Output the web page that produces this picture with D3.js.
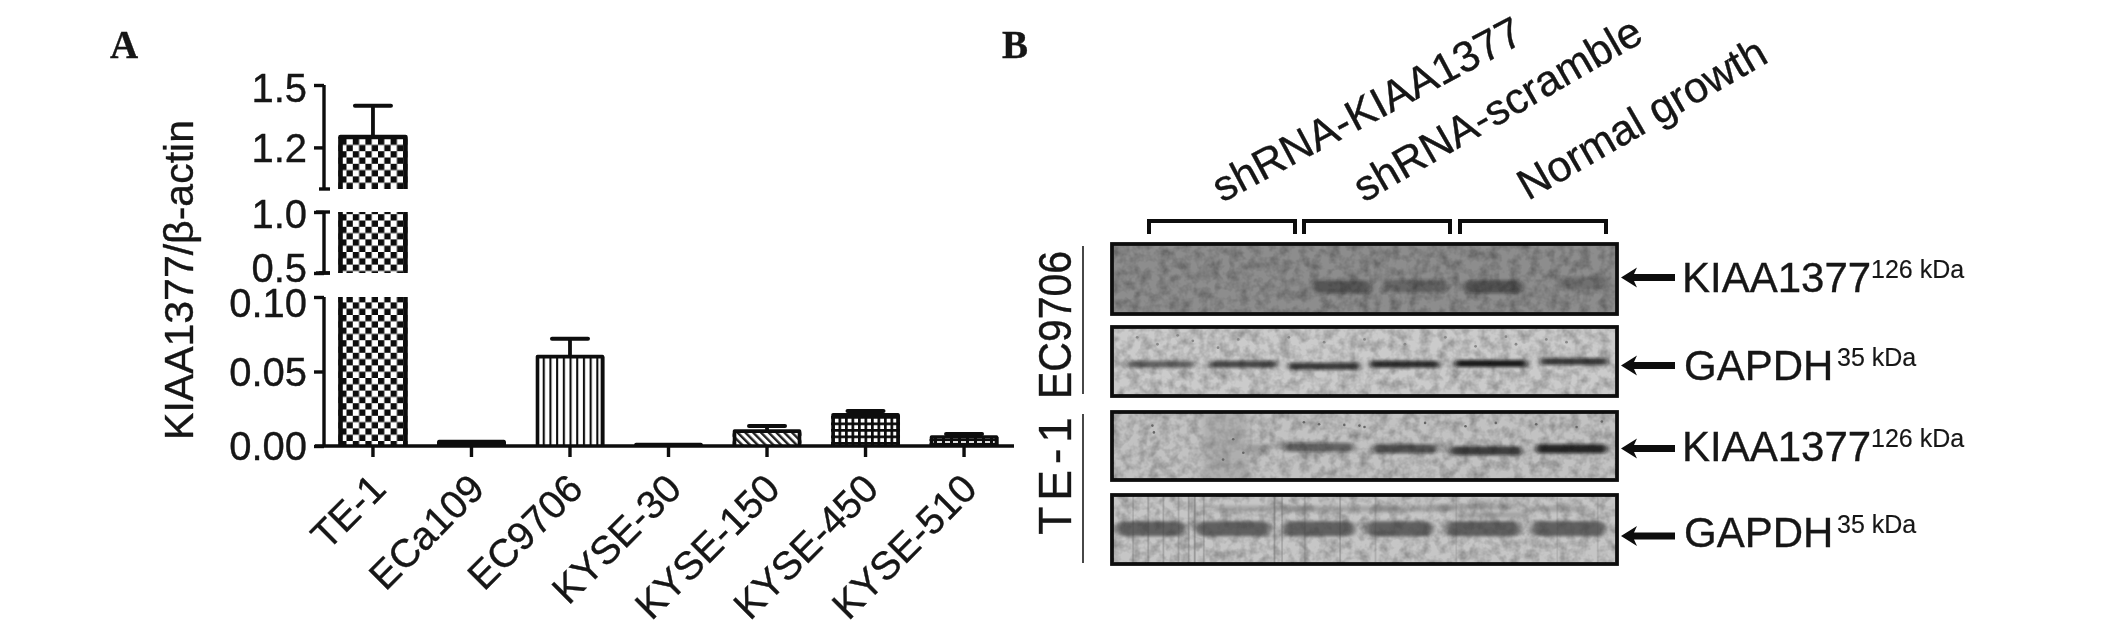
<!DOCTYPE html>
<html><head><meta charset="utf-8">
<script src="https://cdn.jsdelivr.net/npm/d3@7"></script>
<style>
html,body{margin:0;padding:0;background:#fff}
svg{display:block}
text{font-family:"Liberation Sans",Arial,sans-serif;fill:#141414;stroke:#141414;stroke-width:0.35px}
</style></head><body>
<svg id="c" width="2126" height="628"></svg>
<script>
// ---- Panel A data ----
const categories = ["TE-1","ECa109","EC9706","KYSE-30","KYSE-150","KYSE-450","KYSE-510"];
const barValues  = [1.25,0.003,0.06,0.001,0.01,0.021,0.006];
const errorTops  = [1.40,0.003,0.072,0.001,0.0134,0.0235,0.008];
const barFills   = ["checker","solid","vstripe","solid","diag","grid","dash"];
const yLabel = "KIAA1377/β-actin";
const segmentDomains = [[0,0.1],[0.5,1.0],[1.0,1.5]];
const segmentTicks   = [[0,0.05,0.10],[0.5,1.0],[1.2,1.5]];
const segmentTickLabels = [["0.00","0.05","0.10"],["0.5","1.0"],["1.2","1.5"]];

// ---- Panel B data (blot coordinates in percent of each blot) ----
const blotNames  = ["EC9706 KIAA1377","EC9706 GAPDH","TE-1 KIAA1377","TE-1 GAPDH"];
const blotGreys  = ["#8d8d8d","#cbcbcb","#c2c2c2","#c6c6c6"];
const blotBandCentres = [[45.6,60.4,75.6,93.4],[9.6,26,42,58,75,91.5],[29,41,58,74,91],[7.6,24,41,57,73.5,90.4]];
const blotBandWidths  = [[11.5,12.3,11.7,10.3],[13.5,13.5,14.2,13.8,14.2,13.5],[4.5,14,13,14.4,14.2],[13.6,14.8,14.4,13.3,14.8,14.8]];
const blotBandRows    = [[61,60,61,56],[54,54,57,54,53,50],[54,52,54,57,54],[49,49,49,49,49,49]];
const blotBandDark    = [[0.42,0.3,0.46,0.22],[0.55,0.68,0.75,0.82,0.92,0.74],[0.2,0.52,0.62,0.72,0.85],[0.72,0.72,0.72,0.72,0.74,0.72]];
const blotBandThick   = [13,7,9,15];
const teGapdhStreaks  = [[4,10],[7,12],[10,14],[13,12],[15,16],[16.2,18],[18,12],[32,18],[33.5,12],[38,10],[45,14],[52,10],[68,8],[88,8],[96,8]];
const teGapdhFaint    = [[30,20,20],[46,22,20],[60,16,20],[72,16,17],[75,14,29],[88,12,20]];
const teKiaaSpecks    = [[8,20],[8.3,30],[38,15],[41,18],[46,19],[49,20],[50,22],[62,16],[70,21],[76,16],[84,18],[92,22],[97,14],[24,40],[22,70],[26,60]];
const ecGapdhSpecks   = [[5,15],[9,25],[13,12],[16,20],[21,30],[25,18],[35,15],[42,22],[50,18],[58,25],[66,15],[72,28],[78,14],[80,25],[86,18],[90,22]];
const groupLabels = ["shRNA-KIAA1377","shRNA-scramble","Normal growth"];
const blotLabels  = ["KIAA1377","GAPDH","KIAA1377","GAPDH"];
const blotKDa     = ["126 kDa","35 kDa","126 kDa","35 kDa"];
const sideLabels  = ["EC9706","TE-1"];

const svg = d3.select("#c");
const defs = svg.append("defs");
const soft = defs.append("filter").attr("id","soft").attr("x",0).attr("y",0).attr("width",1).attr("height",1);
soft.append("feGaussianBlur").attr("stdDeviation",0.65);
const bandBlur = defs.append("filter").attr("id","bandBlur").attr("x","-20%").attr("y","-80%").attr("width","140%").attr("height","260%");
bandBlur.append("feGaussianBlur").attr("stdDeviation","3 1.5");
const g1 = defs.append("filter").attr("id","grain").attr("x",0).attr("y",0).attr("width",1).attr("height",1);
g1.append("feTurbulence").attr("type","fractalNoise").attr("baseFrequency","0.1").attr("numOctaves",3).attr("seed",4);
g1.append("feColorMatrix").attr("values","0 0 0 0 0  0 0 0 0 0  0 0 0 0 0  0 0 0 0.55 -0.2");
g1.append("feGaussianBlur").attr("stdDeviation",0.7);
g1.append("feComposite").attr("in2","SourceAlpha").attr("operator","in");

function pattern(id,w,h,draw,tf){
  const p = defs.append("pattern").attr("id",id).attr("patternUnits","userSpaceOnUse").attr("width",w).attr("height",h);
  if(tf) p.attr("patternTransform",tf);
  p.append("rect").attr("width",w).attr("height",h).attr("fill","#fff");
  draw(p);
}
const bk = "#0c0c0c";
pattern("checker",12.6,12.6,p=>{
  p.append("rect").attr("width",6.3).attr("height",6.3).attr("fill",bk);
  p.append("rect").attr("x",6.3).attr("y",6.3).attr("width",6.3).attr("height",6.3).attr("fill",bk);
});
pattern("vstripe",6.7,6.7,p=>p.append("rect").attr("width",2.1).attr("height",6.7).attr("fill",bk));
pattern("diag",5.5,5.5,p=>p.append("rect").attr("width",2.4).attr("height",5.5).attr("fill","#222"),"rotate(-45)");
pattern("grid",6.5,6.5,p=>{
  p.append("rect").attr("width",2.7).attr("height",6.5).attr("fill",bk);
  p.append("rect").attr("width",6.5).attr("height",2.7).attr("fill",bk);
});
pattern("dash",8,4,p=>{
  p.append("rect").attr("width",8).attr("height",4).attr("fill",bk);
  p.append("rect").attr("x",1).attr("y",1).attr("width",5).attr("height",2).attr("fill","#ddd");
});
pattern("solid",4,4,p=>p.append("rect").attr("width",4).attr("height",4).attr("fill",bk));

const root = svg.append("g").attr("filter","url(#soft)");
root.append("rect").attr("width",2126).attr("height",628).attr("fill","#fff");

// ---- Panel letters ----
root.append("text").attr("x",110).attr("y",58).text("A").style("font-family","'Liberation Serif',serif").style("font-weight",700).style("font-size","39px");
root.append("text").attr("x",1002).attr("y",58).text("B").style("font-family","'Liberation Serif',serif").style("font-weight",700).style("font-size","39px");

// ---- Panel A ----
const axisX = 324, axisW = 3.4;
const segmentRanges = [[446,297],[273,212],[189,85]];
const yScales = segmentDomains.map((d,i)=>d3.scaleLinear().domain(d).range(segmentRanges[i]));
const x = d3.scaleBand().domain(categories).range([323.7,1013.3]).paddingInner(0.3).paddingOuter(0.15);

const bars = root.append("g");
categories.forEach((c,i)=>{
  const v = barValues[i], bx = x(c), bw = x.bandwidth();
  yScales.forEach((s,si)=>{
    const [d0,d1] = s.domain();
    if(v <= d0) return;
    const top = s(Math.min(v,d1)), bot = s(d0);
    const capped = v <= d1;
    bars.append("rect").attr("x",bx).attr("y",top).attr("width",bw).attr("height",bot-top).attr("fill",`url(#${barFills[i]})`);
    const path = d3.path();
    path.moveTo(bx+2,bot); path.lineTo(bx+2,top);
    if(capped){ path.lineTo(bx+bw-2,top); } else { path.moveTo(bx+bw-2,top); }
    path.lineTo(bx+bw-2,bot);
    bars.append("path").attr("d",path.toString()).attr("fill","none").attr("stroke",bk).attr("stroke-width",barFills[i]==="checker"?4.6:3.6).attr("stroke-linejoin","round");
    if(capped){
      const e = errorTops[i], cx = bx+bw/2;
      if(e>v){
        bars.append("line").attr("x1",cx).attr("x2",cx).attr("y1",top).attr("y2",s(e)).attr("stroke",bk).attr("stroke-width",3.8);
        bars.append("line").attr("x1",cx-18).attr("x2",cx+18).attr("y1",s(e)).attr("y2",s(e)).attr("stroke",bk).attr("stroke-width",4).attr("stroke-linecap","round");
      }
    }
  });
});

const labelNudges = {"0.10":6,"0.5":-5,"1.5":3,"1.0":2};
yScales.forEach((s,i)=>{
  const ax = d3.axisLeft(s).tickValues(segmentTicks[i]).tickSize(10).tickPadding(7)
    .tickFormat((d,k)=>segmentTickLabels[i][k]);
  const g = root.append("g").attr("transform",`translate(${axisX},0)`).call(ax);
  g.select(".domain").attr("d",`M0,${s.range()[0]}V${s.range()[1]}`).attr("stroke",bk).attr("stroke-width",axisW);
  g.selectAll(".tick line").attr("stroke",bk).attr("stroke-width",axisW);
  g.selectAll(".tick text").style("font-size","40px").attr("fill","#141414").attr("text-anchor","end")
    .attr("dy",function(){return (0.34*40+(labelNudges[this.textContent]||0))+"px";});
  if(i>0){
    const yb = s.range()[0];
    root.append("line").attr("x1",axisX-5).attr("x2",axisX+6).attr("y1",yb).attr("y2",yb).attr("stroke",bk).attr("stroke-width",axisW);
  }
  if(i===1){
    const yt = s.range()[1];
    root.append("line").attr("x1",axisX-8).attr("x2",axisX+6).attr("y1",yt).attr("y2",yt).attr("stroke",bk).attr("stroke-width",axisW);
    root.append("line").attr("x1",axisX-8).attr("x2",axisX+6).attr("y1",s.range()[0]).attr("y2",s.range()[0]).attr("stroke",bk).attr("stroke-width",axisW);
  }
});

const xAxis = d3.axisBottom(x).tickSize(11).tickPadding(8);
const xg = root.append("g").attr("transform","translate(0,446)").call(xAxis);
xg.select(".domain").attr("d","M315,0H1014").attr("stroke",bk).attr("stroke-width",axisW);
xg.selectAll(".tick line").attr("stroke",bk).attr("stroke-width",axisW);
xg.selectAll(".tick text").style("font-size","39.5px").attr("fill","#141414")
  .attr("text-anchor","end").attr("y",0).attr("dy",0)
  .attr("transform","translate(15,45) rotate(-45)");

root.append("text").attr("transform","translate(193,280) rotate(-90)").attr("text-anchor","middle")
  .style("font-size","41px").text(yLabel);

// ---- Panel B ----
const blotTops = [244,327,412,495], blotBottoms = [314,396,480,564];
const blotX = d3.scaleLinear().domain([0,100]).range([1112,1617]);
blotNames.forEach((name,b)=>{
  const y = d3.scaleLinear().domain([0,100]).range([blotTops[b],blotBottoms[b]]);
  const clipId = "clip"+b;
  defs.append("clipPath").attr("id",clipId).append("rect").attr("x",blotX(0)).attr("y",y(0)).attr("width",blotX(100)-blotX(0)).attr("height",y(100)-y(0));
  const g = root.append("g").attr("clip-path",`url(#${clipId})`);
  g.append("rect").attr("x",blotX(0)).attr("y",y(0)).attr("width",blotX(100)-blotX(0)).attr("height",y(100)-y(0)).attr("fill",blotGreys[b]);
  g.append("rect").attr("x",blotX(0)).attr("y",y(0)).attr("width",blotX(100)-blotX(0)).attr("height",y(100)-y(0)).attr("fill","#000").attr("filter","url(#grain)");
  if(b===2){
    g.append("rect").attr("x",blotX(18)).attr("y",y(0)).attr("width",blotX(9)-blotX(0)).attr("height",y(100)-y(0)).attr("fill","#8a8a8a").attr("opacity",0.35).attr("filter","url(#bandBlur)");
    g.selectAll(".sp").data(teKiaaSpecks).join("circle").attr("cx",d=>blotX(d[0])).attr("cy",d=>y(d[1])).attr("r",1.3).attr("fill","#666");
  }
  if(b===1){
    g.selectAll(".sp").data(ecGapdhSpecks).join("circle").attr("cx",d=>blotX(d[0])).attr("cy",d=>y(d[1])).attr("r",1.4).attr("fill","#888");
  }
  if(b===3){
    g.selectAll(".st").data(teGapdhStreaks).join("rect").attr("x",d=>blotX(d[0])).attr("y",y(0)).attr("width",1.8).attr("height",y(100)-y(0))
      .attr("fill","#6e6e6e").attr("opacity",d=>d[1]/36);
    g.selectAll(".fb").data(teGapdhFaint).join("rect").attr("x",d=>blotX(d[0]-d[1]/2)).attr("y",d=>y(d[2])-3).attr("width",d=>blotX(d[1])-blotX(0)).attr("height",6)
      .attr("fill","#666").attr("opacity",0.35).attr("filter","url(#bandBlur)");
  }
  blotBandCentres[b].forEach((c,k)=>{
    const w = blotX(blotBandWidths[b][k])-blotX(0), t = blotBandThick[b];
    g.append("rect").attr("x",blotX(c)-w/2).attr("y",y(blotBandRows[b][k])-t/2).attr("width",w).attr("height",t).attr("rx",t/2)
      .attr("fill",b===3?"#3a3a3a":"#111").attr("opacity",blotBandDark[b][k]).attr("filter","url(#bandBlur)");
  });
  root.append("rect").attr("x",blotX(0)).attr("y",y(0)).attr("width",blotX(100)-blotX(0)).attr("height",y(100)-y(0))
    .attr("fill","none").attr("stroke","#111").attr("stroke-width",3.8);
});

// group brackets and rotated labels
const bracketLeft = [1149,1304,1460], bracketWidth = 146;
const labelAnchors = [[1222,203],[1364,203],[1528,201]], labelAngles = [-28,-30,-30];
groupLabels.forEach((t,i)=>{
  const l = bracketLeft[i];
  root.append("path").attr("d",`M${l},234V221H${l+bracketWidth}V234`).attr("fill","none").attr("stroke",bk).attr("stroke-width",4);
  root.append("text").attr("transform",`translate(${labelAnchors[i][0]},${labelAnchors[i][1]}) rotate(${labelAngles[i]})`)
    .style("font-size","43px").text(t);
});

// arrows and right-hand labels
const arrowRows = [277.5,365.6,448.5,536], textBase = [292,380,460.5,546.7];
const labelX = [1682,1684,1682,1684], kdaX = [1871,1837,1871,1837];
blotLabels.forEach((t,i)=>{
  const yy = arrowRows[i];
  root.append("path").attr("d",`M1621,${yy}L1637,${yy-10}L1634,${yy-3.5}H1675V${yy+3.5}H1634L1637,${yy+10}Z`).attr("fill",bk);
  root.append("text").attr("x",labelX[i]).attr("y",textBase[i]).style("font-size","42px").text(t);
  root.append("text").attr("x",kdaX[i]).attr("y",textBase[i]-14).style("font-size","25px").style("stroke-width","0.15px").text(blotKDa[i]);
});

// side labels with rules
const sideCentre = [325,473], ruleSpan = [[246,394],[414,563]], sideSize = [41,46], sideStretch = [1.12,1], sideTrack = [0,6];
sideLabels.forEach((t,i)=>{
  root.append("text").attr("transform",`translate(1071,${sideCentre[i]}) rotate(-90) scale(1,${sideStretch[i]})`).attr("text-anchor","middle")
    .style("font-size",sideSize[i]+"px").style("letter-spacing",sideTrack[i]+"px").text(t);
  root.append("line").attr("x1",1083).attr("x2",1083).attr("y1",ruleSpan[i][0]).attr("y2",ruleSpan[i][1]).attr("stroke","#333").attr("stroke-width",1.8);
});
</script>
</body></html>
